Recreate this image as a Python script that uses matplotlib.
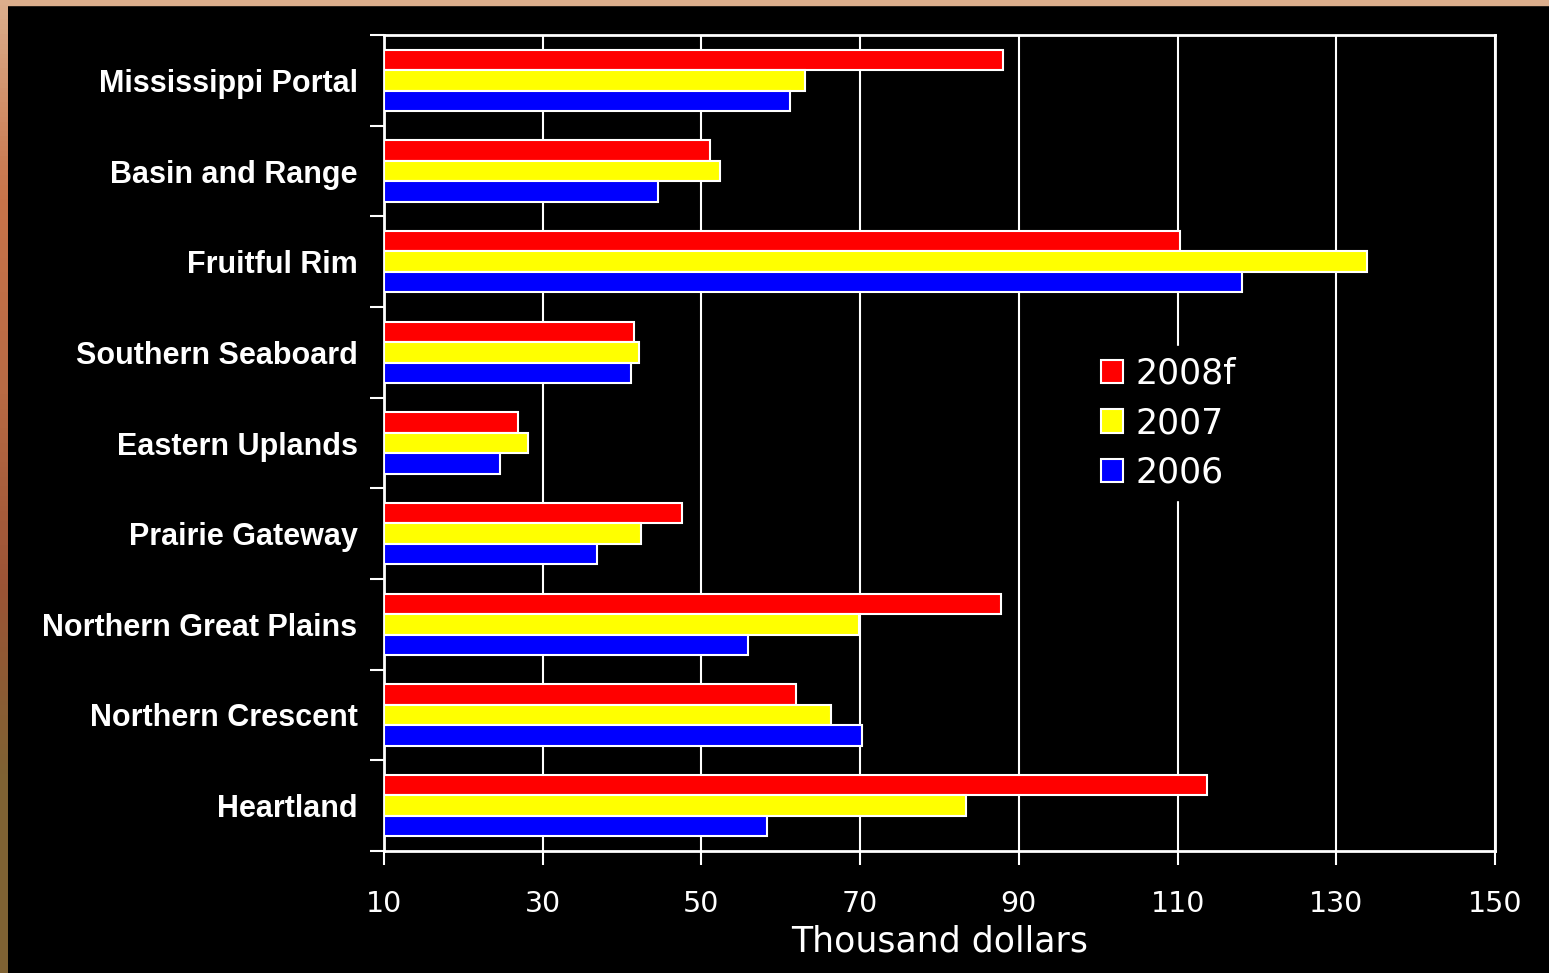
import numpy as np
import matplotlib.pyplot as plt
from matplotlib.patches import Rectangle

# regions, top to bottom as shown
regions = ["Mississippi Portal", "Basin and Range", "Fruitful Rim", "Southern Seaboard",
           "Eastern Uplands", "Prairie Gateway", "Northern Great Plains",
           "Northern Crescent", "Heartland"]
v2008f = [88.0, 51.1, 110.3, 41.5, 26.9, 47.5, 87.7, 61.9, 113.7]
v2007 = [63.0, 52.3, 133.9, 42.1, 28.1, 42.4, 69.9, 66.3, 83.3]
v2006 = [61.2, 44.5, 118.1, 41.1, 24.6, 36.8, 55.9, 70.2, 58.3]
xticks = [10, 30, 50, 70, 90, 110, 130, 150]

fig = plt.figure(figsize=(15.49, 9.73), dpi=100, facecolor="black")
ax = fig.add_axes([384 / 1549, 1 - 851 / 973, (1495 - 384) / 1549, (851 - 35) / 973])
ax.set_facecolor("black")

# slide border strips
fig.add_artist(Rectangle((0, 1 - 5 / 973), 1, 5 / 973, transform=fig.transFigure,
                         color="#dcae8c", zorder=0))
grad = np.linspace(0, 1, 200).reshape(-1, 1)
bax = fig.add_axes([0, 0, 7 / 1549, 1])
bax.imshow(grad, aspect="auto", cmap=plt.matplotlib.colors.LinearSegmentedColormap.from_list(
    "b", ["#dcae8c", "#c8744a", "#b86a44", "#9c5436", "#7f6233", "#7f6233"]))
bax.axis("off")

n = len(regions)
y = np.arange(n)[::-1].astype(float)
h = 0.226
ax.barh(y + h, np.array(v2008f) - 10, left=10, height=h, color="#ff0000", edgecolor="white", lw=1.5, label="2008f", zorder=3)
ax.barh(y, np.array(v2007) - 10, left=10, height=h, color="#ffff00", edgecolor="white", lw=1.5, label="2007", zorder=3)
ax.barh(y - h, np.array(v2006) - 10, left=10, height=h, color="#0000ff", edgecolor="white", lw=1.5, label="2006", zorder=3)

ax.set_xlim(10, 150)
ax.set_ylim(-0.5, n - 0.5)
ax.set_xticks(xticks)
ax.set_xticklabels([str(t) for t in xticks], fontsize=20.5, color="white", family="DejaVu Sans")
ax.tick_params(axis="x", direction="out", length=10, width=1.5, color="white", pad=18)
ax.set_yticks(np.arange(-0.5, n, 1.0))
ax.set_yticklabels([])
ax.set_yticks(y, minor=True)
ax.set_yticklabels(regions, minor=True, fontsize=22, fontweight="bold", color="white",
                   family="Liberation Sans")
ax.tick_params(axis="y", which="major", direction="out", length=10, width=1.5, color="white")
ax.tick_params(axis="y", which="minor", length=0, pad=19)
ax.grid(axis="x", color="white", lw=1.5, zorder=1)
for s in ax.spines.values():
    s.set_color("white")
    s.set_linewidth(2)

ax.set_xlabel("Thousand dollars", fontsize=25, color="white", family="DejaVu Sans", labelpad=5)

leg = ax.legend(loc="upper left", bbox_to_anchor=(0.62, 0.64), fontsize=25, frameon=True,
                facecolor="black", edgecolor="black", framealpha=1, labelcolor="white",
                handlelength=0.65, handleheight=0.65, handletextpad=0.35, labelspacing=0.45,
                borderpad=0.3)
leg.set_zorder(5)

fig.savefig("out.png", dpi=100, facecolor="black")
